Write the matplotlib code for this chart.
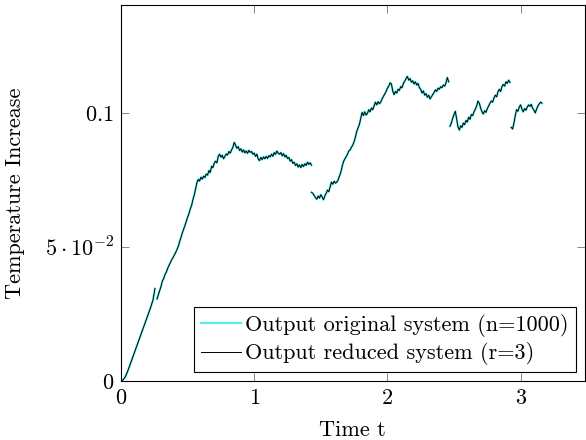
import matplotlib
matplotlib.use("Agg")
import matplotlib.pyplot as plt
import numpy as np

plt.rcParams['font.family'] = 'serif'
plt.rcParams['font.serif'] = ['cmr10']
plt.rcParams['mathtext.fontset'] = 'cm'
plt.rcParams['axes.formatter.use_mathtext'] = True

STEP = 0.01

# segments of the output (time grid, temperature)
seg1_t = [0, 0.015, 0.03, 0.045, 0.06, 0.08, 0.10, 0.12, 0.14, 0.16, 0.18, 0.20, 0.22, 0.24, 0.255]
seg1_y = [0, 0.0004, 0.0014, 0.0030, 0.0050, 0.0078, 0.0106, 0.0133, 0.0160, 0.0188,
          0.0216, 0.0243, 0.0271, 0.0302, 0.0345]

seg2_start = 0.27
seg2_y = [0.0306, 0.0322, 0.0337, 0.0352, 0.0372, 0.0382, 0.0397, 0.0406, 0.0420, 0.0431,
          0.0441, 0.0452, 0.0460, 0.0470, 0.0479, 0.0490, 0.0502, 0.0520, 0.0535, 0.0552,
          0.0566, 0.0580, 0.0596, 0.0611, 0.0624, 0.0642, 0.0655, 0.0677, 0.0694, 0.0718,
          0.0740, 0.0752, 0.0746, 0.0760, 0.0753, 0.0764, 0.0759, 0.0772, 0.0768, 0.0785,
          0.0778, 0.0801, 0.0796, 0.0812, 0.0820, 0.0814, 0.0838, 0.0846, 0.0835, 0.0842,
          0.0829, 0.0838, 0.0847, 0.0843, 0.0856, 0.0850, 0.0862, 0.0872, 0.0890, 0.0880,
          0.0868, 0.0874, 0.0860, 0.0866, 0.0854, 0.0862, 0.0851, 0.0858, 0.0849, 0.0860,
          0.0853, 0.0856, 0.0846, 0.0850, 0.0838, 0.0846, 0.0828, 0.0822, 0.0834, 0.0826,
          0.0836, 0.0829, 0.0838, 0.0830, 0.0841, 0.0836, 0.0846, 0.0838, 0.0852, 0.0845,
          0.0858, 0.0850, 0.0846, 0.0852, 0.0840, 0.0848, 0.0836, 0.0842, 0.0830, 0.0834,
          0.0820, 0.0826, 0.0812, 0.0816, 0.0804, 0.0810, 0.0798, 0.0806, 0.0796, 0.0808,
          0.0800, 0.0810, 0.0804, 0.0816, 0.0808, 0.0814, 0.0805]

seg3_start = 1.43
seg3_y = [0.0704, 0.0700, 0.0692, 0.0684, 0.0678, 0.0690, 0.0682, 0.0695, 0.0686, 0.0676,
          0.0690, 0.0700, 0.0712, 0.0706, 0.0724, 0.0742, 0.0734, 0.0745, 0.0738, 0.0742,
          0.0750, 0.0764, 0.0778, 0.0800, 0.0818, 0.0828, 0.0836, 0.0846, 0.0858, 0.0862,
          0.0872, 0.0880, 0.0893, 0.0910, 0.0932, 0.0944, 0.0958, 0.0980, 0.1002, 0.0990,
          0.1004, 0.0992, 0.0998, 0.1012, 0.1004, 0.1018, 0.1012, 0.1026, 0.1040, 0.1030,
          0.1042, 0.1034, 0.1040, 0.1052, 0.1062, 0.1070, 0.1080, 0.1092, 0.1100, 0.1112,
          0.1108, 0.1082, 0.1068, 0.1080, 0.1074, 0.1088, 0.1084, 0.1098, 0.1094, 0.1110,
          0.1118, 0.1128, 0.1136, 0.1122, 0.1128, 0.1114, 0.1120, 0.1108, 0.1116, 0.1104,
          0.1110, 0.1094, 0.1088, 0.1074, 0.1082, 0.1066, 0.1072, 0.1058, 0.1066, 0.1052,
          0.1060, 0.1068, 0.1076, 0.1086, 0.1080, 0.1092, 0.1088, 0.1098, 0.1094, 0.1104,
          0.1100, 0.1112, 0.1132, 0.1116]

seg4_start = 2.47
seg4_y = [0.0950, 0.0962, 0.0980, 0.0994, 0.1006, 0.0978, 0.0948, 0.0936, 0.0952, 0.0946,
          0.0962, 0.0956, 0.0972, 0.0966, 0.0984, 0.0976, 0.0994, 0.0990, 0.1004, 0.1014,
          0.1026, 0.1044, 0.1036, 0.1018, 0.1004, 0.0996, 0.1008, 0.1002, 0.1016, 0.1026,
          0.1036, 0.1044, 0.1040, 0.1056, 0.1066, 0.1060, 0.1078, 0.1088, 0.1080, 0.1098,
          0.1106, 0.1100, 0.1116, 0.1110, 0.1122, 0.1114]

seg5_start = 2.93
seg5_y = [0.0946, 0.0940, 0.0962, 0.0990, 0.1012, 0.1006, 0.1022, 0.1030, 0.1014, 0.1004,
          0.1016, 0.1010, 0.1022, 0.1030, 0.1024, 0.1032, 0.1018, 0.1010, 0.1000, 0.1014,
          0.1026, 0.1034, 0.1040, 0.1036]

# join segments with NaN gaps
t_parts = [np.array(seg1_t)]
y_parts = [np.array(seg1_y)]
for start, ys in [(seg2_start, seg2_y), (seg3_start, seg3_y),
                  (seg4_start, seg4_y), (seg5_start, seg5_y)]:
    t_parts.append(np.array([np.nan]))
    y_parts.append(np.array([np.nan]))
    t_parts.append(start + STEP * np.arange(len(ys)))
    y_parts.append(np.array(ys))
time = np.concatenate(t_parts)
original = np.concatenate(y_parts)
reduced = original.copy()  # lies on top of the original curve

fig = plt.figure(figsize=(5.86, 4.40), dpi=100)
ax = fig.add_axes([0.2065, 0.134, 0.791, 0.855])

ax.plot(time, original, color='#55eeee', lw=1.6, label='Output original system (n=1000)')
ax.plot(time, reduced, color='black', lw=0.7, label='Output reduced system (r=3)')

ax.set_xlim(0, 3.48)
ax.set_ylim(0, 0.1403)
ax.set_xticks([0, 1, 2, 3])
ax.set_xticklabels([r'$0$', r'$1$', r'$2$', r'$3$'])
ax.set_yticks([0, 0.05, 0.1])
ax.set_yticklabels([r'$0$', r'$5\cdot10^{-2}$', r'$0.1$'])
ax.tick_params(direction='in', top=True, right=True, length=6, width=0.6,
               color='0.45', labelsize=16, pad=5)
for s in ax.spines.values():
    s.set_linewidth(0.8)

ax.set_xlabel('Time t', fontsize=16, labelpad=9)
ax.set_ylabel('Temperature Increase', fontsize=16, labelpad=14)

leg = ax.legend(loc='lower right', fontsize=16, fancybox=False, framealpha=1,
                edgecolor='black', handlelength=1.8, borderaxespad=0.4,
                labelspacing=0.25, handletextpad=0.2, borderpad=0.3)
leg.get_frame().set_linewidth(0.8)

fig.savefig('out.png', dpi=100)
